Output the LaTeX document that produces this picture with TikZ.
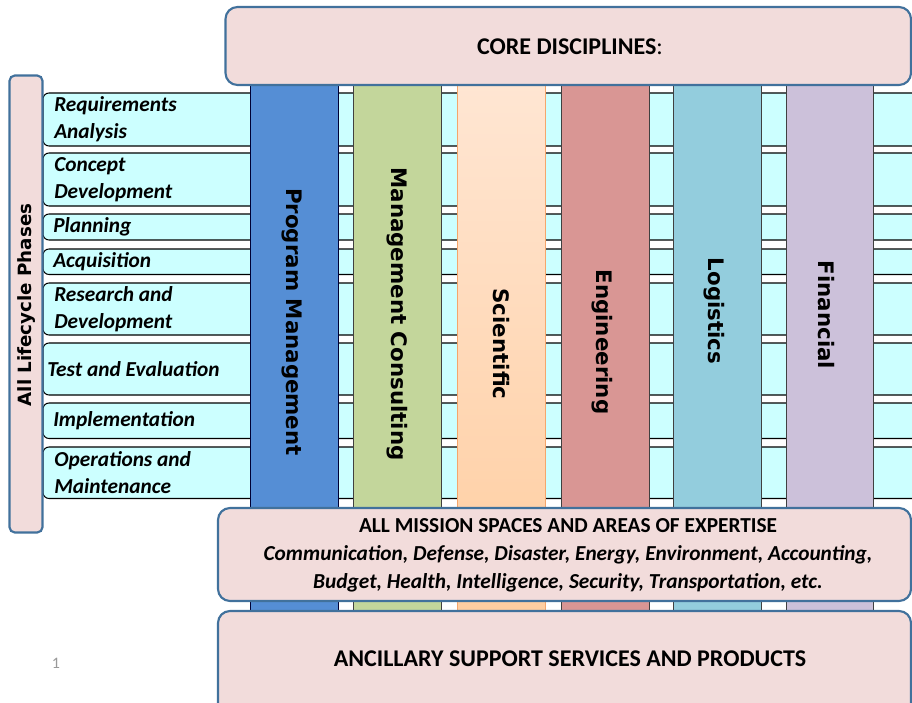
\documentclass[tikz,border=0pt]{standalone}
\usepackage{fontspec}
\setmainfont{Carlito}
\newfontfamily\colfont{DejaVu Sans}
\definecolor{rowcyan}{HTML}{CCFFFF}
\definecolor{pinkfill}{HTML}{F2DCDB}
\definecolor{pinkline}{HTML}{41719C}
\definecolor{cblue}{HTML}{558ED5}
\definecolor{cgreen}{HTML}{C3D69B}
\definecolor{csci1}{HTML}{FFE6D3}
\definecolor{csci2}{HTML}{FFC997}
\definecolor{csciline}{HTML}{F5A66B}
\definecolor{ceng}{HTML}{D99694}
\definecolor{clog}{HTML}{93CDDD}
\definecolor{cfin}{HTML}{CCC1DA}
\begin{document}
\begin{tikzpicture}[x=0.75pt,y=-0.75pt,
  rowband/.style={draw=black, line width=0.8pt, fill=rowcyan, rounded corners=4.5pt},
  rowtext/.style={anchor=west, inner sep=0pt, align=left, font=\fontsize{16}{20.25}\selectfont\bfseries\itshape},
  colbox/.style={draw=black!75, line width=0.7pt},
  coltext/.style={rotate=-90, inner sep=0pt, font=\colfont\fontsize{16}{18}\selectfont\bfseries},
  pinkbox/.style={draw=pinkline, line width=1.6pt, fill=pinkfill},
  boxtext/.style={inner sep=0pt, align=center}
]
\clip (0,0) rectangle (912,702);
\fill[white] (0,0) rectangle (912,702);

% lifecycle row bands
\foreach \t/\b in {93/146,153/206,214/240,249/274.5,283/335,343/395,403/438.5,447/498.5}
  \draw[rowband] (43,\t) rectangle (960,\b);

\node[rowtext] (t1) at (54,119.5) {Requirements\\Analysis};
\node[rowtext] (t2) at (54,179.5) {Concept\\Development};
\node[rowtext] (t3) at (53,227) {Planning};
\node[rowtext] (t4) at (53,261.7) {Acquisition};
\node[rowtext] (t5) at (54,309) {Research and\\Development};
\node[rowtext] (t6) at (47,369) {Test and Evaluation};
\node[rowtext] (t7) at (53,421) {Implementation};
\node[rowtext] (t8) at (54,472.5) {Operations and\\Maintenance};

% discipline columns
\draw[colbox, fill=cblue, draw=black!80!blue] (250,80) rectangle (338,705);
\draw[colbox, fill=cgreen] (353.5,80) rectangle (441.5,705);
\draw[line width=0.7pt, draw=csciline, top color=csci1, bottom color=csci2] (457.5,80) rectangle (545.5,705);
\draw[colbox, fill=ceng] (561.5,80) rectangle (649.5,705);
\draw[colbox, fill=clog] (673.5,80) rectangle (761,705);
\draw[colbox, fill=cfin] (786,80) rectangle (873.5,705);

\node[coltext] (c1) at (292,322) {Program Management};
\node[coltext] (c2) at (397,314) {Management Consulting};
\node[coltext] (c3) at (501,344) {Scientific};
\node[coltext] (c4) at (602,342) {Engineering};
\node[coltext] (c5) at (714,311) {Logistics};
\node[coltext] (c6) at (826,315) {Financial};

% core disciplines
\draw[pinkbox, rounded corners=9pt] (225.5,7) rectangle (911,85);
\node[boxtext, font=\fontsize{18}{20}\selectfont] (core) at (570,47) {\textbf{CORE DISCIPLINES}:};

% lifecycle label box
\draw[pinkbox, rounded corners=4pt] (9.5,75.5) rectangle (42.5,532.5);
\node[rotate=90, inner sep=0pt, font=\colfont\fontsize{13.7}{16}\selectfont\bfseries] (phases) at (27,305) {All Lifecycle Phases};

% mission spaces
\draw[pinkbox, rounded corners=9pt] (218,508) rectangle (911,601);
\node[boxtext, font=\fontsize{16}{21}\selectfont\bfseries] (mission) at (568,555)
  {ALL MISSION SPACES AND AREAS OF EXPERTISE\\
   \itshape Communication, Defense, Disaster, Energy, Environment, Accounting,\\
   \itshape Budget, Health, Intelligence, Security, Transportation, etc.};

% ancillary
\draw[pinkbox, rounded corners=9pt] (218,611) rectangle (911,715);
\node[boxtext, font=\fontsize{18}{20}\selectfont\bfseries] (ancillary) at (570,659) {ANCILLARY SUPPORT SERVICES AND PRODUCTS};

% slide number
\node[inner sep=0pt, text=black!40, font=\fontsize{12}{14}\selectfont] (num) at (56,663) {1};
\end{tikzpicture}
\end{document}
